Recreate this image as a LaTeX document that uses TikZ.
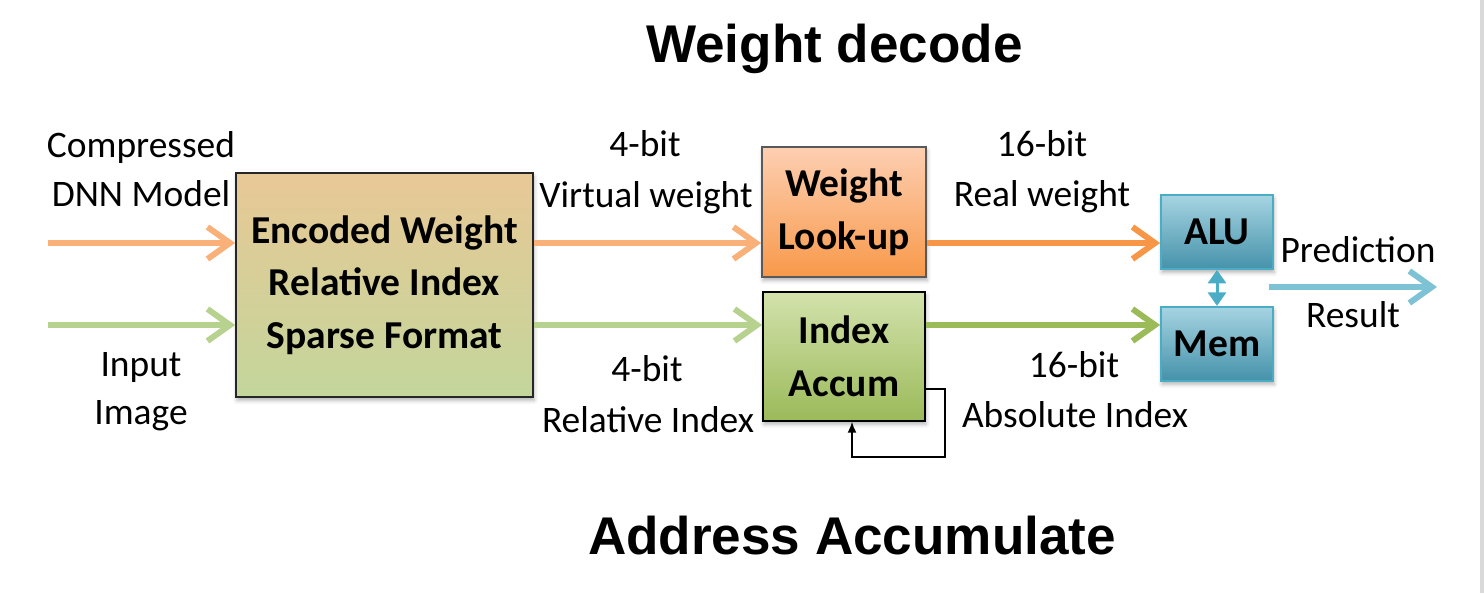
\documentclass[tikz,border=0pt]{standalone}
\usepackage{fontspec}
\setmainfont{Carlito}
\newfontfamily\headfont{Liberation Sans}
\usetikzlibrary{arrows.meta,positioning,shadows.blur}

\definecolor{encTop}{HTML}{E8C896}
\definecolor{encBot}{HTML}{C3D69B}
\definecolor{lutTop}{HTML}{FDCFB2}
\definecolor{lutBot}{HTML}{F8994A}
\definecolor{accTop}{HTML}{D3E2AC}
\definecolor{accBot}{HTML}{9BBA5A}
\definecolor{aluTop}{HTML}{A6D4E2}
\definecolor{aluBot}{HTML}{4592AA}
\definecolor{aluLine}{HTML}{4BACC6}
\definecolor{orgLight}{HTML}{F9B179}
\definecolor{orgDark}{HTML}{F79646}
\definecolor{grnLight}{HTML}{B7D18E}
\definecolor{grnDark}{HTML}{9BBB59}
\definecolor{outBlue}{HTML}{7EC3D5}
\definecolor{edgeGray}{HTML}{D9D9D9}

\tikzstyle{block} = [rectangle, line width=1pt, align=center, inner sep=0pt, font=\fontsize{22.5}{30}\selectfont\bfseries, blur shadow={shadow xshift=0.02cm, shadow yshift=-0.07cm, shadow blur radius=0.08cm, shadow opacity=30}]
\tikzstyle{encbox} = [block, minimum width=5.94cm, minimum height=4.48cm, top color=encTop, bottom color=encBot, draw=black!85]
\tikzstyle{lutbox} = [block, minimum width=3.28cm, minimum height=2.6cm, top color=lutTop, bottom color=lutBot, draw=black!65]
\tikzstyle{accbox} = [block, minimum width=3.24cm, minimum height=2.58cm, top color=accTop, bottom color=accBot, draw=black]
\tikzstyle{unit} = [block, minimum width=2.24cm, minimum height=1.48cm, top color=aluTop, bottom color=aluBot, draw=aluLine]
\tikzstyle{lbl} = [anchor=base, inner sep=0pt, font=\fontsize{21.3}{28.4}\selectfont]
\tikzstyle{title} = [anchor=base, inner sep=0pt, font=\headfont\fontsize{30.2}{36}\selectfont\bfseries]
\tikzstyle{flow} = [line width=3.4pt, -{Straight Barb[length=0.45cm, width=0.64cm]}]

\begin{document}
\begin{tikzpicture}[node distance=1cm]
 \useasboundingbox (0,0) rectangle (29.68,11.86);
 \fill[edgeGray] (29.6,0) rectangle (29.68,11.86);

 % titles
 \node (ttlDec) [title] at (16.69,10.6) {Weight decode};
 \node (ttlAcc) [title] at (17.04,0.78) {Address Accumulate};

 % blocks
 \node (enc) [encbox] at (7.69,6.16) {Encoded Weight\\Relative Index\\Sparse Format};
 \node (lut) [lutbox] at (16.88,7.62) {Weight\\Look-up};
 \node (acc) [accbox, below=0.26cm of lut] {Index\\Accum};
 \node (alu) [unit] at (24.34,7.22) {ALU};
 \node (mem) [unit, below=0.72cm of alu] {Mem};

 % labels
 \node (cmpA) [lbl] at (2.82,8.70) {Compressed};
 \node (cmpB) [lbl] at (2.82,7.72) {DNN Model};
 \node (imgA) [lbl] at (2.82,4.34) {Input};
 \node (imgB) [lbl] at (2.82,3.38) {Image};
 \node (virA) [lbl] at (12.90,8.72) {4-bit};
 \node (virB) [lbl] at (12.92,7.70) {Virtual weight};
 \node (relA) [lbl] at (12.94,4.22) {4-bit};
 \node (relB) [lbl] at (12.96,3.22) {Relative Index};
 \node (realA) [lbl] at (20.84,8.72) {16-bit};
 \node (realB) [lbl] at (20.84,7.72) {Real weight};
 \node (absA) [lbl] at (21.48,4.32) {16-bit};
 \node (absB) [lbl] at (21.50,3.32) {Absolute Index};
 \node (preA) [lbl] at (27.16,6.60) {Prediction};
 \node (preB) [lbl] at (27.06,5.30) {Result};

 % arrows
 \coordinate (inW) at (0.96,7.0);
 \coordinate (inI) at (0.96,5.36);
 \coordinate (outP) at (28.74,6.12);
 \draw[flow, orgLight] (inW) -- (inW -| enc.west);
 \draw[flow, grnLight] (inI) -- (inI -| enc.west);
 \draw[flow, orgLight] (inW -| enc.east) -- (inW -| lut.west);
 \draw[flow, grnLight] (inI -| enc.east) -- (inI -| acc.west);
 \draw[flow, orgDark] (inW -| lut.east) -- (inW -| alu.west);
 \draw[flow, grnDark] (inI -| acc.east) -- (inI -| mem.west);
 \draw[flow, outBlue] ([xshift=-0.1cm]alu.east |- outP) -- (outP);
 \draw[aluLine, line width=1.7pt, {Triangle[length=0.27cm, width=0.36cm]}-{Triangle[length=0.27cm, width=0.36cm]}] (alu.south) -- (mem.north);

 % feedback loop
 \coordinate (fbA) at (18.9,2.72);
 \coordinate (fbB) at (17.04,2.72);
 \draw[line width=1.1pt, -{Latex[length=0.22cm, width=0.18cm]}] ([yshift=-0.65cm]acc.east) -| (fbA) -| (fbB |- acc.south);
\end{tikzpicture}
\end{document}
